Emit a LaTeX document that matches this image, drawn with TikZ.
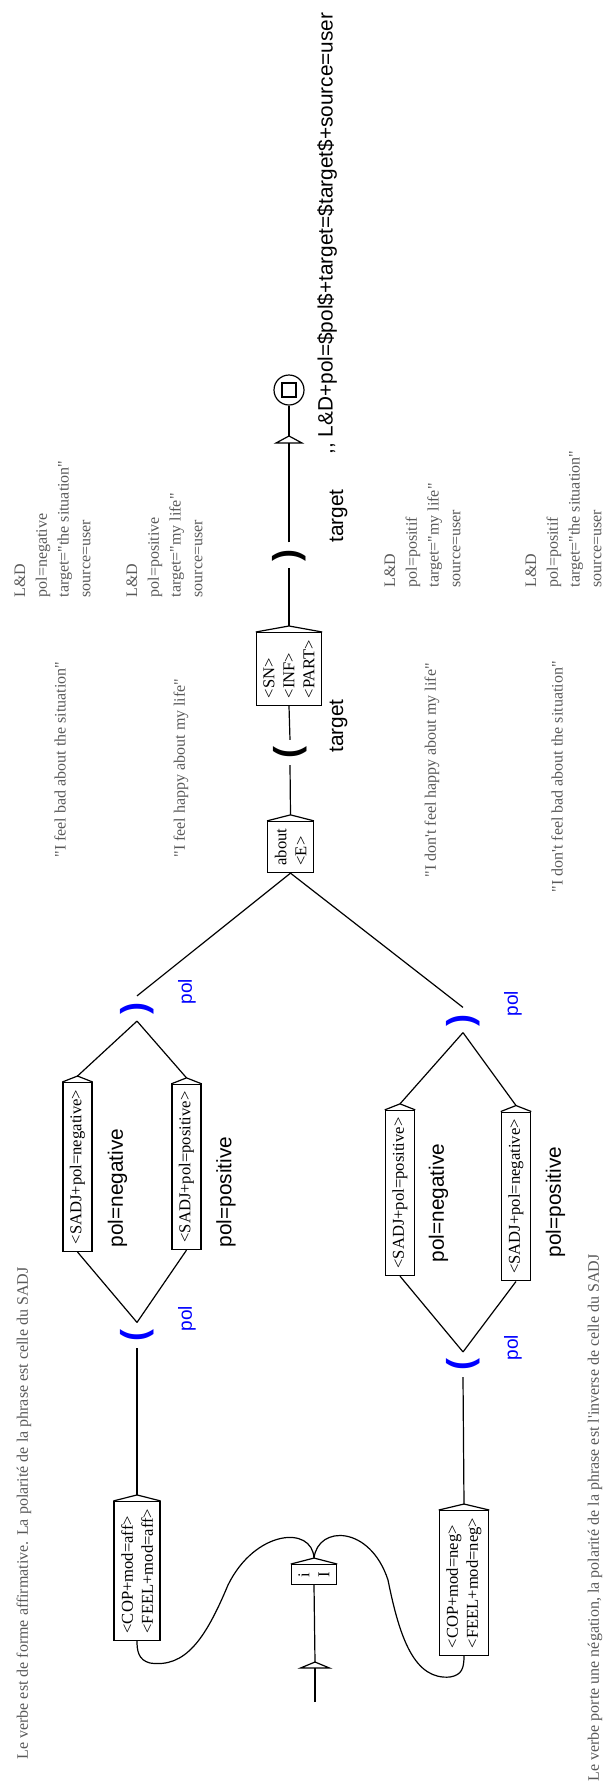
\documentclass[tikz,border=0pt]{standalone}
\usepackage{fontspec}
\setmainfont{Liberation Serif}[Ligatures=TeXOff]
\newfontfamily\arial{Liberation Sans}
\usetikzlibrary{positioning,calc}
\tikzstyle{boite}=[draw,rotate=90,align=left,inner sep=3.5pt,line width=0.7pt,font=\fontsize{8.3}{10}\selectfont]
\tikzstyle{comment}=[rotate=90,anchor=west,align=left,inner sep=0pt,text=black!65,font=\fontsize{8}{10.9}\selectfont]
\tikzstyle{sortie}=[rotate=90,anchor=west,inner sep=0pt,font=\arial\fontsize{10.4}{12}\selectfont]
\tikzstyle{varnom}=[rotate=90,anchor=west,inner sep=0pt,text=blue,font=\arial\fontsize{9.5}{12}\selectfont]
\tikzstyle{var}=[rotate=90,inner sep=0pt,minimum width=12pt,font=\arial\bfseries\fontsize{18}{18}\selectfont]

\begin{document}
\begin{tikzpicture}[x=0.5pt,y=-0.5pt,line width=0.6pt]
    \useasboundingbox (0,0) rectangle (603,1783);
    % comments
    \node [comment] at (24,1760) {Le verbe est de forme affirmative. La polarité de la phrase est celle du SADJ};
    \node [comment] at (595,1782) {Le verbe porte une négation, la polarité de la phrase est l'inverse de celle du SADJ};
    \node [comment] at (60,858) {"I feel bad about the situation"};
    \node [comment] at (181,858) {"I feel happy about my life"};
    \node [comment] at (432,878) {"I don't feel happy about my life"};
    \node [comment] at (557,893) {"I don't feel bad about the situation"};
    \node [comment] at (52.5,598) {L\&D\\pol=negative\\target="the situation"\\source=user};
    \node [comment] at (164.5,598) {L\&D\\pol=positive\\target="my life"\\source=user};
    \node [comment] at (422.5,588) {L\&D\\pol=positif\\target="my life"\\source=user};
    \node [comment] at (563.5,588) {L\&D\\pol=positif\\target="the situation"\\source=user};

    % boxes
    \node [boite] (moi) at (314,1574.5) {i\\I};
    \node [boite] (affirm) at (137,1571) {<COP+mod=aff>\\<FEEL+mod=aff>};
    \node [boite] (negat) at (464,1583) {<COP+mod=neg>\\<FEEL+mod=neg>};
    \node [boite] (adjneg1) at (77.5,1167) {<SADJ+pol=negative>};
    \node [boite] (adjpos1) at (186.5,1167) {<SADJ+pol=positive>};
    \node [boite] (adjpos2) at (400,1193) {<SADJ+pol=positive>};
    \node [boite] (adjneg2) at (516,1196.5) {<SADJ+pol=negative>};
    \node [boite] (about) at (290.5,847) {about\\<E>};
    \node [boite] (cible) at (289,669) {<SN>\\<INF>\\<PART>};
    \foreach \b in {moi,affirm,negat,adjneg1,adjpos1,adjpos2,adjneg2,about,cible}
      \draw (\b.north east) -- ([yshift=3pt]\b.east) -- (\b.south east);

    % outputs
    \node [sortie] at (117.5,1248) {pol=negative};
    \node [sortie] at (226,1248) {pol=positive};
    \node [sortie] at (438.5,1263) {pol=negative};
    \node [sortie] at (555.5,1258) {pol=positive};
    \node [sortie] at (327,455) {,, L\&D+pol=\$pol\$+target=\$target\$+source=user};

    % variables
    \node [var,text=blue] (polA) at (137,1335) {(};
    \node [var,text=blue] (polB) at (137,1008.5) {)};
    \node [var,text=blue] (polC) at (463,1364.5) {(};
    \node [var,text=blue] (polD) at (463,1020) {)};
    \node [var] (cibleA) at (290,752.5) {(};
    \node [var] (cibleB) at (289,555) {)};
    \node [varnom] at (187,1332) {pol};
    \node [varnom] at (187,1005) {pol};
    \node [varnom] at (513,1361) {pol};
    \node [varnom] at (513,1017) {pol};
    \node [sortie] at (338.5,753) {target};
    \node [sortie] at (338.5,543) {target};

    % initial and final states
    \coordinate (debut) at (315,1702);
    \coordinate (fleche) at (315,1668);
    \draw (debut) -- (fleche);
    \draw ([xshift=-7.25pt]fleche) -- ([yshift=3pt]fleche) -- ([xshift=7.25pt]fleche) -- cycle;
    \draw ([yshift=3pt]fleche) -- (moi.west);
    \node [draw,circle,minimum size=15pt,inner sep=0pt] (fin) at (289,390) {};
    \node [draw,minimum size=7pt,inner sep=0pt] (carre) at (fin) {};
    \coordinate (vide) at (289,443);
    \draw ([xshift=-6.5pt]vide) -- ([yshift=3.5pt]vide) -- ([xshift=6.5pt]vide) -- cycle;
    \draw ([yshift=3.5pt]vide) -- (fin.south);

    % transitions
    \draw ([yshift=3pt]moi.east) .. controls (312,1525) and (255,1530) .. (228,1585)
      .. controls (205,1640) and (185,1668) .. (150,1663)
      .. controls (138,1660) and (137,1650) .. (affirm.west);
    \draw ([yshift=3pt]moi.east) .. controls (318,1525) and (370,1525) .. (388,1580)
      .. controls (400,1640) and (415,1680) .. (450,1677)
      .. controls (462,1675) and (464,1668) .. (negat.west);
    \draw ([yshift=3pt]affirm.east) -- (polA.west);
    \draw (polA.east) -- (adjneg1.west);
    \draw (polA.east) -- (adjpos1.west);
    \draw ([yshift=3pt]adjneg1.east) -- (polB.west);
    \draw ([yshift=3pt]adjpos1.east) -- (polB.west);
    \draw ([yshift=3pt]negat.east) -- (polC.west);
    \draw (polC.east) -- (adjpos2.west);
    \draw (polC.east) -- (adjneg2.west);
    \draw ([yshift=3pt]adjpos2.east) -- (polD.west);
    \draw ([yshift=3pt]adjneg2.east) -- (polD.west);
    \draw (polB.east) -- (about.west);
    \draw (polD.east) -- (about.west);
    \draw ([yshift=3pt]about.east) -- (cibleA.west);
    \draw (cibleA.east) -- (cible.west);
    \draw ([yshift=3pt]cible.east) -- (cibleB.west);
    \draw (cibleB.east) -- (vide);
\end{tikzpicture}
\end{document}
